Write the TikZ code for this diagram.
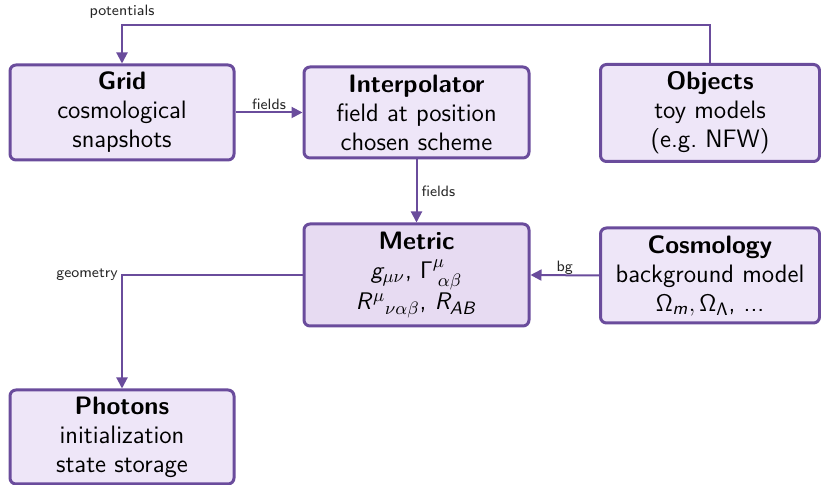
\documentclass[tikz,border=0pt]{standalone}
\usetikzlibrary{arrows.meta}
% sans serif math letters, as in a sans slide layout
\DeclareMathAlphabet{\mathsfit}{OT1}{cmss}{m}{sl}
\definecolor{boxline}{HTML}{6A4C9C}
\definecolor{boxfill}{HTML}{EEE6F8}
\definecolor{metricfill}{HTML}{E7DBF2}
\tikzset{
  module/.style={draw=boxline, line width=1.5pt, fill=boxfill, rounded corners=3pt,
    align=center, inner sep=0pt, font=\sffamily\fontsize{12.6}{14.5}\selectfont},
  link/.style={draw=boxline, line width=1pt, -{Triangle[length=5.5pt,width=5.5pt]}},
  tag/.style={font=\sffamily\fontsize{7.5}{8}\selectfont, inner sep=1pt, text=black!85}
}
\begin{document}
\begin{tikzpicture}[x=0.5pt,y=-0.5pt]
\useasboundingbox (0,0) rectangle (821,485);

\node[module, minimum width=112pt, minimum height=47.5pt] (grid) at (122,112.5)
  {\textbf{Grid}\\cosmological\\snapshots};
\node[module, minimum width=112.5pt, minimum height=45.5pt] (interp) at (416.5,112.5)
  {\textbf{Interpolator}\\field at position\\chosen scheme};
\node[module, minimum width=109.5pt, minimum height=48.5pt] (objects) at (710,113)
  {\textbf{Objects}\\toy models\\(e.g.\ NFW)};
\node[module, fill=metricfill, minimum width=112.5pt, minimum height=51pt] (metric) at (416.5,275)
  {\textbf{Metric}\\$\mathsfit{g}_{\mu\nu}$, $\mathsf{\Gamma}^{\mu}_{\;\alpha\beta}$\\[1pt]
   $\mathsfit{R}^{\mu}{}_{\nu\alpha\beta}$, $\mathsfit{R}_{\mathsfit{AB}}$};
\node[module, minimum width=109.5pt, minimum height=47.5pt] (cosmo) at (710,275.5)
  {\textbf{Cosmology}\\background model\\$\mathsf{\Omega}_{\mathsfit{m}}, \mathsf{\Omega}_{\mathsf{\Lambda}}$, ...};
\node[module, minimum width=112pt, minimum height=47pt] (photons) at (122,437)
  {\textbf{Photons}\\initialization\\state storage};

% corner points of the routed connectors
\coordinate (potR) at (objects.north |- 0,25);
\coordinate (potL) at (grid.north |- 0,25);
\coordinate (geo) at (photons.north |- metric.west);

\draw[link] (objects.north) -- (potR) -- (potL) -- (grid.north);
\node[tag, anchor=south] at (potL) [yshift=2pt] {potentials};

\draw[link] (grid.east) -- node[tag, above] {fields} (interp.west);
\draw[link] (interp.south) -- node[tag, right, xshift=1pt] {fields} (metric.north);
\draw[link] (cosmo.west) -- node[tag, above, yshift=-1pt] {bg} (metric.east);

\draw[link] (metric.west) -- (geo) -- (photons.north);
\node[tag, anchor=east] at (geo) [xshift=-1pt] {geometry};
\end{tikzpicture}
\end{document}
